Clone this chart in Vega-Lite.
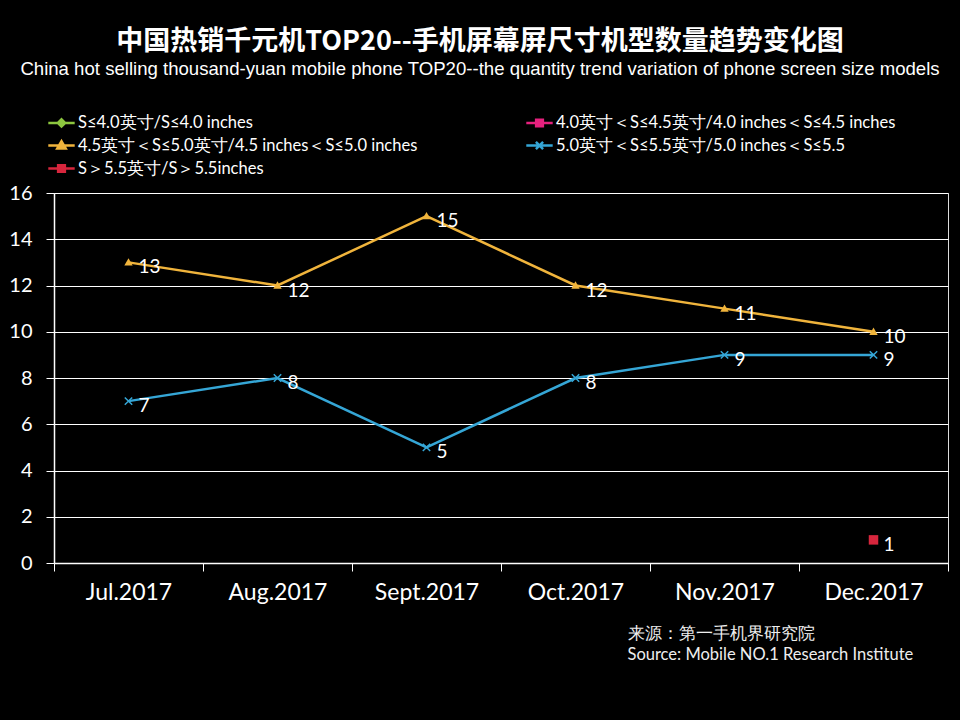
{
  "$schema": "https://vega.github.io/schema/vega-lite/v6.json",
  "width": 894,
  "height": 370,
  "autosize": {"type": "none"},
  "padding": {"left": 54, "top": 193, "right": 12, "bottom": 157},
  "background": "#000000",
  "title": {
    "text": "中国热销千元机TOP20--手机屏幕屏尺寸机型数量趋势变化图",
    "subtitle": "China hot selling thousand-yuan mobile phone TOP20--the quantity trend variation of phone screen size models",
    "anchor": "middle",
    "dx": -21,
    "font": "Noto Sans CJK SC",
    "fontSize": 27,
    "fontWeight": "bold",
    "color": "#ffffff",
    "subtitleFont": "Liberation Sans",
    "subtitleFontSize": 18.6,
    "subtitleColor": "#ffffff",
    "subtitlePadding": 4,
    "offset": 29
  },
  "data": {
    "values": [
      {"month": "Jul.2017", "series": "4.5英寸＜S≤5.0英寸/4.5 inches＜S≤5.0 inches", "count": 13},
      {"month": "Aug.2017", "series": "4.5英寸＜S≤5.0英寸/4.5 inches＜S≤5.0 inches", "count": 12},
      {"month": "Sept.2017", "series": "4.5英寸＜S≤5.0英寸/4.5 inches＜S≤5.0 inches", "count": 15},
      {"month": "Oct.2017", "series": "4.5英寸＜S≤5.0英寸/4.5 inches＜S≤5.0 inches", "count": 12},
      {"month": "Nov.2017", "series": "4.5英寸＜S≤5.0英寸/4.5 inches＜S≤5.0 inches", "count": 11},
      {"month": "Dec.2017", "series": "4.5英寸＜S≤5.0英寸/4.5 inches＜S≤5.0 inches", "count": 10},
      {"month": "Jul.2017", "series": "5.0英寸＜S≤5.5英寸/5.0 inches＜S≤5.5", "count": 7},
      {"month": "Aug.2017", "series": "5.0英寸＜S≤5.5英寸/5.0 inches＜S≤5.5", "count": 8},
      {"month": "Sept.2017", "series": "5.0英寸＜S≤5.5英寸/5.0 inches＜S≤5.5", "count": 5},
      {"month": "Oct.2017", "series": "5.0英寸＜S≤5.5英寸/5.0 inches＜S≤5.5", "count": 8},
      {"month": "Nov.2017", "series": "5.0英寸＜S≤5.5英寸/5.0 inches＜S≤5.5", "count": 9},
      {"month": "Dec.2017", "series": "5.0英寸＜S≤5.5英寸/5.0 inches＜S≤5.5", "count": 9},
      {"month": "Dec.2017", "series": "S＞5.5英寸/S＞5.5inches", "count": 1}
    ]
  },
  "encoding": {
    "x": {
      "field": "month",
      "type": "nominal",
      "sort": null,
      "scale": {
        "domain": ["Jul.2017", "Aug.2017", "Sept.2017", "Oct.2017", "Nov.2017", "Dec.2017"],
        "paddingInner": 0,
        "paddingOuter": 0
      },
      "axis": {
        "labelAngle": 0,
        "labelFont": "Lato",
        "labelFontSize": 23,
        "labelColor": "#ffffff",
        "labelPadding": 10,
        "tickBand": "extent",
        "tickColor": "#ffffff",
        "tickSize": 8,
        "domainColor": "#ffffff",
        "domainWidth": 1.5,
        "grid": false,
        "title": ["来源：第一手机界研究院", "Source: Mobile NO.1 Research Institute"],
        "titleFont": "Lato",
        "titleFontSize": 16.5,
        "titleFontWeight": "normal",
        "titleColor": "#eeeeee",
        "titleAlign": "left",
        "titleAnchor": "start",
        "titleBaseline": "top",
        "titleLineHeight": 21,
        "titleX": 573,
        "titleY": 62
      }
    },
    "y": {
      "field": "count",
      "type": "quantitative",
      "scale": {"domain": [0, 16], "nice": false},
      "axis": {
        "values": [0, 2, 4, 6, 8, 10, 12, 14, 16],
        "labelFont": "Lato",
        "labelFontSize": 20,
        "labelColor": "#ffffff",
        "labelPadding": 14,
        "tickColor": "#ffffff",
        "tickSize": 8,
        "domainColor": "#ffffff",
        "domainWidth": 1.5,
        "grid": true,
        "gridColor": "#ffffff",
        "gridWidth": 1.2,
        "gridOpacity": 1,
        "title": null
      }
    },
    "color": {
      "field": "series",
      "type": "nominal",
      "scale": {
        "domain": [
          "S≤4.0英寸/S≤4.0 inches",
          "4.0英寸＜S≤4.5英寸/4.0 inches＜S≤4.5 inches",
          "4.5英寸＜S≤5.0英寸/4.5 inches＜S≤5.0 inches",
          "5.0英寸＜S≤5.5英寸/5.0 inches＜S≤5.5",
          "S＞5.5英寸/S＞5.5inches"
        ],
        "range": ["#8cc63f", "#e6217e", "#f0b43c", "#35a6d6", "#d7263d"]
      },
      "legend": {
        "orient": "none",
        "legendX": -6,
        "legendY": -84,
        "direction": "horizontal",
        "columns": 2,
        "columnPadding": 103,
        "rowPadding": 0,
        "title": null,
        "labelFont": "Lato",
        "labelFontSize": 16.5,
        "labelColor": "#ffffff",
        "labelLimit": 500,
        "labelOffset": 3,
        "symbolSize": 576,
        "symbolStrokeWidth": 2.5,
        "encode": {
          "symbols": {
            "update": {
              "shape": {"signal": "['M-1.1,0H1.1M-0.3,0L0,-0.3L0.3,0L0,0.3Z', 'M-1.1,0H1.1M-0.28,-0.28H0.28V0.28H-0.28Z', 'M-1.1,0H1.1M-0.35,0.25L0,-0.35L0.35,0.25Z', 'M-1.1,0H1.1M-0.3,-0.3L0.3,0.3M-0.3,0.3L0.3,-0.3', 'M-1.1,0H1.1M-0.28,-0.28H0.28V0.28H-0.28Z'][datum.index]"},
              "stroke": {"signal": "scale('color', datum.value)"},
              "fill": {"signal": "scale('color', datum.value)"},
              "strokeWidth": {"value": 2.5},
              "size": {"value": 576},
              "opacity": {"value": 1}
            }
          }
        }
      }
    }
  },
  "layer": [
    {
      "mark": {"type": "line", "strokeWidth": 2.5}
    },
    {
      "transform": [{"filter": "datum.series === '4.5英寸＜S≤5.0英寸/4.5 inches＜S≤5.0 inches'"}],
      "mark": {"type": "point", "filled": true, "size": 70, "opacity": 1, "shape": "M-1,0.75L0,-1L1,0.75Z"}
    },
    {
      "transform": [{"filter": "datum.series === '5.0英寸＜S≤5.5英寸/5.0 inches＜S≤5.5'"}],
      "mark": {"type": "point", "filled": false, "size": 55, "strokeWidth": 1.5, "opacity": 1, "shape": "M-1,-1L1,1M-1,1L1,-1"}
    },
    {
      "transform": [{"filter": "datum.series === 'S＞5.5英寸/S＞5.5inches'"}],
      "mark": {"type": "point", "filled": true, "size": 90, "opacity": 1, "shape": "square"}
    },
    {
      "mark": {"type": "text", "align": "left", "baseline": "middle", "dx": 10, "dy": 5, "font": "Lato", "fontSize": 19},
      "encoding": {
        "text": {"field": "count", "type": "quantitative"},
        "color": {"value": "#ffffff"}
      }
    }
  ]
}
